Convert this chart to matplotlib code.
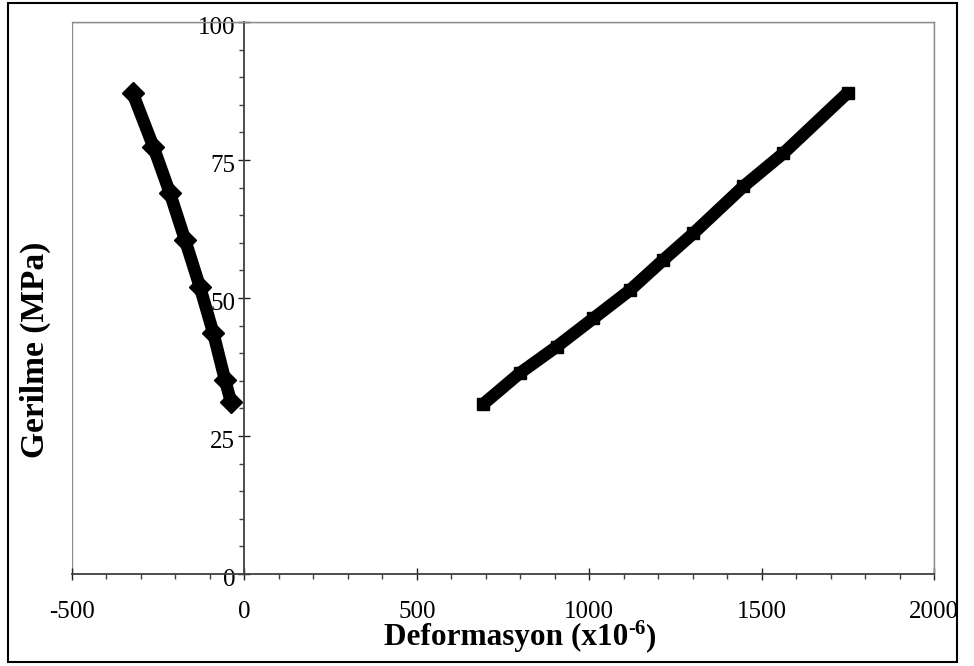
import matplotlib
matplotlib.use('Agg')
import matplotlib.pyplot as plt
import matplotlib.transforms as mtransforms
from matplotlib.patches import Rectangle
from matplotlib.ticker import MultipleLocator

plt.rcParams['font.family'] = ['Liberation Serif', 'DejaVu Serif']
plt.rcParams['axes.unicode_minus'] = False

# okunan degerler (yanal ve eksenel deformasyon)
yanal_def = [-324, -264, -216, -172, -129, -90, -56, -39]
yanal_ger = [87.1, 77.4, 69.0, 60.5, 52.0, 43.6, 35.1, 31.2]

eksenel_def = [693, 799, 906, 1012, 1118, 1215, 1302, 1447, 1563, 1750]
eksenel_ger = [30.8, 36.4, 41.2, 46.3, 51.4, 56.9, 61.7, 70.2, 76.2, 87.2]

x_ticks = [-500, 0, 500, 1000, 1500, 2000]
y_ticks = [0, 25, 50, 75, 100]

W, H = 974, 666
fig = plt.figure(figsize=(W / 100, H / 100), dpi=100)
ax = fig.add_axes([72 / W, 1 - 574 / H, 862 / W, 552 / H])

ax.plot(yanal_def, yanal_ger, color='black', lw=9, marker='D', ms=11,
        solid_capstyle='round', zorder=3)
ax.plot(eksenel_def, eksenel_ger, color='black', lw=9, marker='s', ms=9,
        solid_capstyle='butt', zorder=3)

ax.set_xlim(-500, 2000)
ax.set_ylim(0, 100)

# gri cerceve
for s in ['top', 'right']:
    ax.spines[s].set_color('#8c8c8c')
    ax.spines[s].set_linewidth(1)
ax.add_patch(Rectangle((0, 0), 1, 1, transform=ax.transAxes, fill=False,
                       edgecolor='#8c8c8c', lw=1, zorder=0))
ax.spines['left'].set_position(('data', 0))
ax.spines['left'].set_color('#404040')
ax.spines['left'].set_linewidth(1.3)
ax.spines['bottom'].set_color('#404040')
ax.spines['bottom'].set_linewidth(1.3)

ax.set_xticks(x_ticks)
ax.set_yticks(y_ticks)
ax.xaxis.set_minor_locator(MultipleLocator(100))
ax.yaxis.set_minor_locator(MultipleLocator(5))
ax.tick_params(which='major', direction='inout', length=9, width=1,
               color='#202020', labelsize=18)
ax.tick_params(which='minor', direction='out', length=3.6, width=1,
               color='#404040')
ax.tick_params(axis='x', which='major', pad=15)
ax.tick_params(axis='y', which='major', pad=2)

# y etiketleri biraz asagida
kaydir = mtransforms.ScaledTranslation(0, -4 / 100, fig.dpi_scale_trans)
for lbl in ax.get_yticklabels():
    lbl.set_transform(lbl.get_transform() + kaydir)

# x ekseni basligi: ust simge elle yerlestiriliyor
r = fig.canvas.get_renderer()
parca1 = 'Deformasyon (x10'
parca2 = '-6'
parca3 = ')'
t1 = fig.text(0, 0, parca1, fontsize=22.5, fontweight='bold')
t2 = fig.text(0, 0, parca2, fontsize=15, fontweight='bold')
t3 = fig.text(0, 0, parca3, fontsize=22.5, fontweight='bold')
w1 = t1.get_window_extent(r).width
w2 = t2.get_window_extent(r).width
w3 = t3.get_window_extent(r).width
x0 = 520 - (w1 + w2 + w3) / 2
taban = H - 645
t1.set_position((x0 / W, taban / H))
t2.set_position(((x0 + w1) / W, (taban + 11) / H))
t3.set_position(((x0 + w1 + w2) / W, taban / H))

fig.text(35 / W, 1 - 350 / H, 'Gerilme (MPa)', fontsize=24,
         fontweight='bold', rotation=90, ha='center', va='center')

fig.patches.append(Rectangle((8 / W, 1 - 662 / H), 949 / W, 659 / H,
                             transform=fig.transFigure, fill=False,
                             edgecolor='black', lw=1.5))

fig.savefig('out.png', dpi=100)
